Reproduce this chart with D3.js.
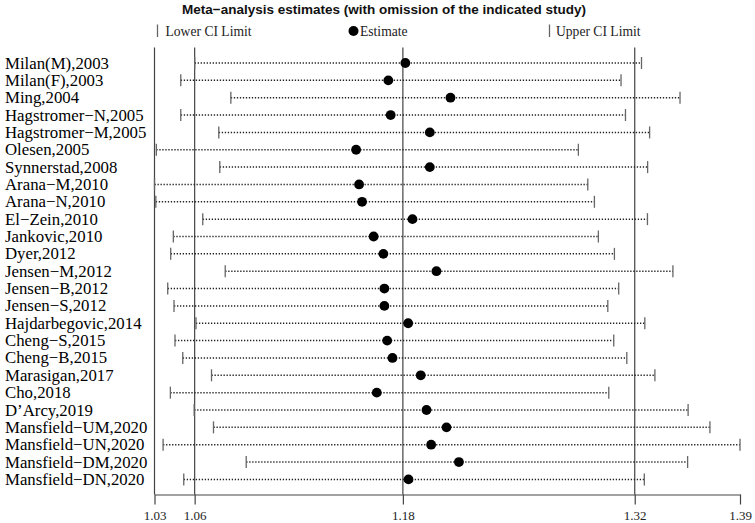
<!DOCTYPE html>
<html>
<head>
<meta charset="utf-8">
<script src="https://cdn.jsdelivr.net/npm/d3@7"></script>
<style>
  html, body { margin: 0; padding: 0; background: #fff; }
  svg { display: block; }
</style>
</head>
<body>
<svg id="chart" width="755" height="523"></svg>
<script>
const studies = ["Milan(M),2003","Milan(F),2003","Ming,2004","Hagstromer\u2212N,2005","Hagstromer\u2212M,2005","Olesen,2005","Synnerstad,2008","Arana\u2212M,2010","Arana\u2212N,2010","El\u2212Zein,2010","Jankovic,2010","Dyer,2012","Jensen\u2212M,2012","Jensen\u2212B,2012","Jensen\u2212S,2012","Hajdarbegovic,2014","Cheng\u2212S,2015","Cheng\u2212B,2015","Marasigan,2017","Cho,2018","D\u2019Arcy,2019","Mansfield\u2212UM,2020","Mansfield\u2212UN,2020","Mansfield\u2212DM,2020","Mansfield\u2212DN,2020"];
const estimates = [1.1842,1.1739,1.2115,1.1753,1.1990,1.1544,1.1990,1.1562,1.1580,1.1885,1.1650,1.1709,1.2030,1.1715,1.1715,1.1859,1.1732,1.1764,1.1935,1.1669,1.1970,1.2091,1.1998,1.2166,1.1861];
const lowerCI = [1.0567,1.0483,1.0786,1.0483,1.0713,1.0335,1.0719,1.0324,1.0332,1.0616,1.0438,1.0422,1.0752,1.0404,1.0442,1.0575,1.0448,1.0495,1.0669,1.0420,1.0564,1.0681,1.0376,1.0879,1.0501];
const upperCI = [1.3271,1.3147,1.3504,1.3174,1.3320,1.2889,1.3308,1.2946,1.2986,1.3307,1.3010,1.3107,1.3461,1.3133,1.3067,1.3291,1.3103,1.3182,1.3352,1.3073,1.3553,1.3685,1.3867,1.3550,1.3288];
const overall = { lower: 1.0567, estimate: 1.1827, upper: 1.3230 };
const titleText = "Meta\u2212analysis estimates (with omission of the indicated study)";
const legendLabels = ["Lower CI Limit", "Estimate", "Upper CI Limit"];

const svg = d3.select("#chart");
const serif = "'Liberation Serif', 'Times New Roman', serif";
const sans = "'Liberation Sans', Arial, sans-serif";

const xMin = d3.min(lowerCI), xMax = d3.max(upperCI);
const x = d3.scaleLinear().domain([xMin, xMax]).range([154.5, 740]);
const y = d3.scaleLinear().domain([0, studies.length - 1]).range([63, 479.4]);
const plotTop = 47.5, plotBottom = 494.5;

// Title
svg.append("text")
  .attr("x", 384).attr("y", 14)
  .attr("text-anchor", "middle")
  .attr("font-family", sans).attr("font-weight", "bold").attr("font-size", 13.5)
  .attr("fill", "#111")
  .text(titleText);

// Legend
const lg = svg.append("g");
lg.append("line").attr("x1", 157.5).attr("x2", 157.5).attr("y1", 24.5).attr("y2", 37)
  .attr("stroke", "#666").attr("stroke-width", 1.3);
lg.append("text").attr("x", 165.5).attr("y", 35.5).attr("font-family", serif).attr("font-size", 13.6)
  .attr("fill", "#222").text(legendLabels[0]);
lg.append("circle").attr("cx", 353.5).attr("cy", 31).attr("r", 5).attr("fill", "#000");
lg.append("text").attr("x", 360).attr("y", 35.5).attr("font-family", serif).attr("font-size", 13.6)
  .attr("fill", "#222").text(legendLabels[1]);
lg.append("line").attr("x1", 549.5).attr("x2", 549.5).attr("y1", 24.5).attr("y2", 37)
  .attr("stroke", "#666").attr("stroke-width", 1.3);
lg.append("text").attr("x", 556).attr("y", 35.5).attr("font-family", serif).attr("font-size", 13.6)
  .attr("fill", "#222").text(legendLabels[2]);

// Reference vertical lines
const refVals = [xMin, overall.lower, overall.estimate, overall.upper];
svg.append("g").selectAll("line").data(refVals).join("line")
  .attr("x1", d => x(d)).attr("x2", d => x(d))
  .attr("y1", plotTop).attr("y2", plotBottom)
  .attr("stroke", "#444").attr("stroke-width", 1.2);

// Study rows
const rows = svg.append("g").selectAll("g").data(studies).join("g");
rows.append("text")
  .attr("x", 5).attr("y", (d, i) => y(i) + 5.5)
  .attr("font-family", serif).attr("font-size", 16.8)
  .attr("fill", "#000")
  .text(d => d);
rows.append("line")
  .attr("x1", (d, i) => x(lowerCI[i])).attr("x2", (d, i) => x(upperCI[i]))
  .attr("y1", (d, i) => y(i)).attr("y2", (d, i) => y(i))
  .attr("stroke", "#222").attr("stroke-width", 1.5)
  .attr("stroke-dasharray", "1.3,1.7");
rows.append("line")
  .attr("x1", (d, i) => x(lowerCI[i])).attr("x2", (d, i) => x(lowerCI[i]))
  .attr("y1", (d, i) => y(i) - 6).attr("y2", (d, i) => y(i) + 6)
  .attr("stroke", "#666").attr("stroke-width", 1.3);
rows.append("line")
  .attr("x1", (d, i) => x(upperCI[i])).attr("x2", (d, i) => x(upperCI[i]))
  .attr("y1", (d, i) => y(i) - 6).attr("y2", (d, i) => y(i) + 6)
  .attr("stroke", "#666").attr("stroke-width", 1.3);
rows.append("circle")
  .attr("cx", (d, i) => x(estimates[i])).attr("cy", (d, i) => y(i))
  .attr("r", 4.9).attr("fill", "#000");

// Bottom axis
const tickVals = [xMin, overall.lower, overall.estimate, overall.upper, xMax];
const axis = d3.axisBottom(x).tickValues(tickVals).tickFormat(d3.format(".2f"))
  .tickSizeInner(10).tickSizeOuter(0).tickPadding(6);
const ag = svg.append("g").attr("transform", `translate(0,${plotBottom})`).call(axis);
ag.select(".domain").attr("stroke", "#444").attr("stroke-width", 1.2);
ag.selectAll(".tick line").attr("stroke", "#444").attr("stroke-width", 1.2);
ag.selectAll(".tick text").attr("font-family", serif).attr("font-size", 13).attr("fill", "#222");
</script>
</body>
</html>
